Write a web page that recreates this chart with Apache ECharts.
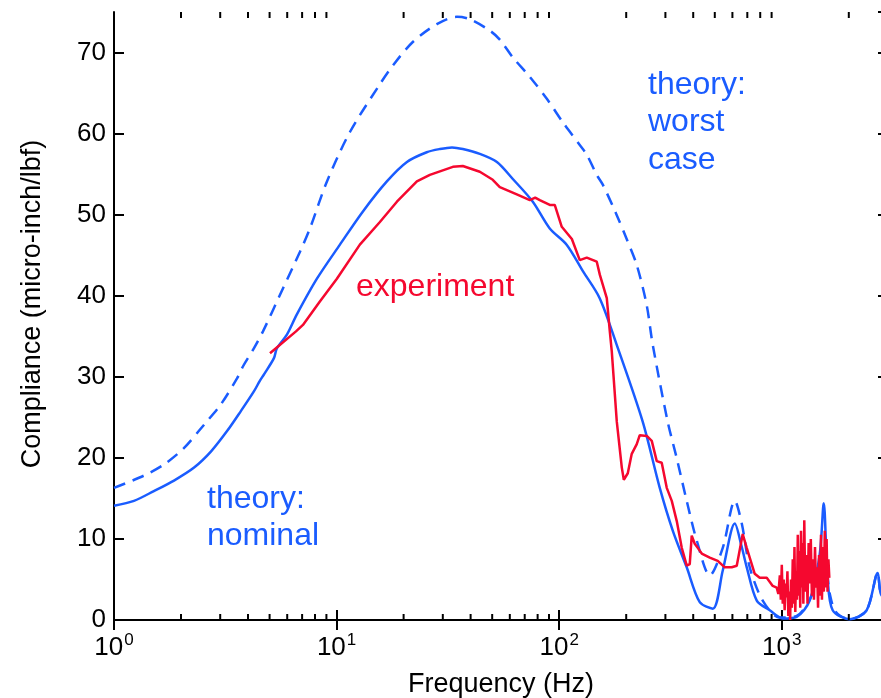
<!DOCTYPE html>
<html>
<head>
<meta charset="utf-8">
<script src="https://cdn.jsdelivr.net/npm/echarts@6/dist/echarts.min.js"></script>
<style>
html,body{margin:0;padding:0;background:#fff;}
#chart{width:881px;height:698px;}
</style>
</head>
<body>
<div id="chart"></div>
<script>
// ---- data ----
var nominalFreq = [1, 1.23, 1.51, 1.86, 2.29, 2.73, 3.22, 3.72, 4.25, 4.52, 4.72, 5.23, 5.39, 5.98, 6.63, 8.16, 10.35, 13.13, 16.82, 20.7, 25.4, 29.1, 33, 36.9, 44.0, 52.5, 61.9, 76.1, 90.7, 108, 128, 152, 181, 237, 283, 324, 374, 428, 490, 543, 615, 661, 696, 772, 883, 1009, 1167, 1334, 1480, 1543, 1607, 1693, 2018, 2406, 2696, 2781, 3000];
var nominalVal = [14.1, 14.7, 15.9, 17.2, 18.8, 20.8, 23.3, 25.8, 28.2, 29.5, 30.3, 32.3, 33.5, 35.2, 37.7, 42.1, 46.3, 50.4, 54.1, 56.5, 57.7, 58.1, 58.3, 58.1, 57.5, 56.5, 54.4, 51.6, 48.3, 46.3, 43.0, 39.7, 34.0, 24.5, 16.3, 11.0, 6.5, 2.2, 1.4, 6.1, 11.9, 9.0, 6.5, 2.4, 1.2, 0.2, 0.4, 2.4, 8.1, 14.4, 5.2, 1.2, 0.1, 1.2, 5.8, 3.3, 2.0];

var worstFreq = [1, 1.36, 1.68, 2.06, 2.54, 3.02, 3.57, 3.80, 4.25, 4.67, 5.74, 6.84, 7.59, 9.05, 11.48, 15.65, 17.89, 22.0, 28.2, 34.7, 39.7, 48.8, 54.1, 61.9, 73.8, 88.0, 103.8, 123.7, 133.0, 147.5, 157, 181, 201, 223, 247, 263, 307, 337, 374, 415, 475, 543, 615, 661, 718, 821, 979, 1167, 1377, 1480, 1560, 1641, 1750, 2018, 2406, 2696, 2781, 3000];
var worstVal = [16.3, 17.8, 19.2, 21.2, 24.1, 26.6, 29.8, 31.3, 33.5, 35.6, 40.9, 45.4, 48.3, 54.1, 60.2, 66.1, 68.4, 71.3, 73.5, 74.4, 74.1, 72.7, 71.6, 69.4, 67.0, 64.3, 61.4, 58.6, 57.4, 54.9, 53.7, 50.0, 47.0, 43.8, 38.9, 34.0, 24.5, 20.0, 14.7, 9.8, 5.5, 8.9, 14.7, 11.9, 6.5, 2.4, 0.3, 0.5, 3.3, 7.0, 7.3, 3.3, 1.0, 0.1, 1.2, 5.8, 3.3, 2.0];

var expFreq = [5.02, 6.57, 7.06, 8.41, 10.03, 12.72, 15.65, 18.66, 22.94, 26.24, 33.29, 36.9, 44.0, 50.3, 54.1, 64.5, 73.8, 78.0, 81.8, 90.7, 95.5, 102.7, 114.0, 123.7, 133.0, 147.5, 152.2, 163.6, 168.8, 172.3, 181.4, 191.1, 195.1, 203.3, 211.8, 223.1, 230.1, 247.4, 260.5, 274.3, 288.8, 304.2, 320.4, 337.4, 355.3, 374.1, 385.9, 393.9, 406.3, 419.1, 436.9, 474.7, 515.6, 554.2, 595.8, 627.6, 667.5, 695.7, 732.7, 755.8, 796, 855.8, 910.5, 948.8,
  965, 980, 990, 1000, 1010, 1020, 1030, 1040, 1050, 1060, 1070, 1080, 1090, 1100, 1110, 1120, 1130, 1140, 1150, 1160, 1170, 1180, 1190, 1200, 1210, 1220, 1230, 1240, 1250, 1262, 1275, 1290, 1305, 1320, 1335, 1350, 1365, 1380, 1395, 1410, 1425, 1440, 1455, 1470, 1485, 1500, 1515, 1530, 1545, 1560, 1575, 1590, 1605, 1620, 1635];
var expVal = [32.9, 35.6, 36.4, 39.3, 42.1, 46.3, 49.1, 51.6, 54.1, 54.9, 55.9, 56.0, 55.3, 54.3, 53.4, 52.5, 51.8, 52.1, 51.8, 51.2, 51.2, 48.5, 47.0, 44.4, 44.7, 44.2, 42.6, 39.7, 35.6, 33.1, 24.5, 18.8, 17.3, 18.1, 20.5, 21.7, 22.8, 22.7, 22.1, 19.6, 19.4, 16.3, 14.7, 12.2, 8.9, 6.7, 6.9, 10.4, 9.4, 8.9, 8.2, 7.7, 7.3, 6.5, 6.5, 6.7, 10.6, 8.9, 6.9, 5.7, 5.2, 5.2, 4.2, 4.0,
  3.2, 5.5, 2.5, 6.8, 2.0, 5.0, 1.2, 4.5, 2.8, 6.0, 0.5, 3.5, 0.0, 5.0, 1.5, 7.5, 2.0, 9.0, 1.0, 6.0, 2.5, 10.5, 3.0, 8.5, 1.5, 11.0, 4.0, 9.5, 2.0, 12.3, 3.5, 8.0, 2.0, 9.5, 4.5, 10.0, 3.0, 7.5, 2.5, 9.0, 4.0, 6.5, 1.5, 8.0, 3.0, 10.5, 2.5, 9.0, 3.5, 11.0, 4.0, 10.0, 3.5, 7.5, 5.2];

var minorTicks = [2, 3, 4, 5, 6, 7, 8, 9, 20, 30, 40, 50, 60, 70, 80, 90, 200, 300, 400, 500, 600, 700, 800, 900, 2000];
var yTicks = [0, 10, 20, 30, 40, 50, 60, 70];

var BLUE = '#1a5cff';
var RED = '#f5082f';
var FONT = 'Liberation Sans, Arial, Helvetica, sans-serif';

function pairs(xs, ys) { return xs.map(function (x, i) { return [x, ys[i]]; }); }

var chart = echarts.init(document.getElementById('chart'), null, { renderer: 'canvas' });

var xCommon = {
  type: 'log', logBase: 10, min: 1, max: 3000,
  splitLine: { show: false },
  axisLine: { show: true, lineStyle: { color: '#000', width: 2 } },
  axisTick: { show: true, inside: true, length: 10, lineStyle: { color: '#000', width: 2 } },
  minorTick: { show: false }
};
var yCommon = {
  type: 'value', min: 0, max: 75, interval: 10,
  splitLine: { show: false },
  axisLine: { show: true, lineStyle: { color: '#000', width: 2 } },
  axisTick: { show: true, inside: true, length: 10, lineStyle: { color: '#000', width: 2 } }
};

var option = {
  animation: false,
  backgroundColor: '#fff',
  grid: { left: 114, top: 12, width: 774, height: 608, containLabel: false, outerBoundsMode: 'none' },
  xAxis: [
    Object.assign({}, xCommon, {
      position: 'bottom',
      name: 'Frequency (Hz)', nameLocation: 'middle', nameGap: 51,
      nameTextStyle: { fontFamily: FONT, fontSize: 27, color: '#000' },
      axisLabel: {
        show: true, margin: 12, showMaxLabel: false,
        formatter: function (v) {
          var e = Math.round(Math.log(v) / Math.LN10);
          if (Math.abs(Math.pow(10, e) - v) > 1e-6 * v) return '';
          return '{b|10}{s|' + e + '}';
        },
        rich: {
          b: { fontFamily: FONT, fontSize: 26, color: '#000', verticalAlign: 'bottom' },
          s: { fontFamily: FONT, fontSize: 17, color: '#000', verticalAlign: 'top', padding: [0, 0, 12, 1] }
        }
      }
    }),
    Object.assign({}, xCommon, { position: 'top', axisLabel: { show: false } })
  ],
  yAxis: [
    Object.assign({}, yCommon, {
      position: 'left',
      name: 'Compliance (micro-inch/lbf)', nameLocation: 'middle', nameGap: 68,
      nameTextStyle: { fontFamily: FONT, fontSize: 27, color: '#000', padding: [0, 0, 0, 24] },
      axisLabel: {
        show: true, margin: 8, color: '#000', fontFamily: FONT, fontSize: 26,
        showMaxLabel: false,
        formatter: function (v) { return yTicks.indexOf(v) >= 0 ? String(v) : ''; }
      }
    }),
    Object.assign({}, yCommon, { position: 'right', axisLabel: { show: false } })
  ],
  series: [
    {
      name: 'theory: worst case', type: 'line', xAxisIndex: 0, yAxisIndex: 0,
      data: pairs(worstFreq, worstVal), showSymbol: false, symbol: 'none', smooth: 0.3,
      lineStyle: { color: BLUE, width: 2.5, type: [12, 8] }, z: 3
    },
    {
      name: 'theory: nominal', type: 'line', xAxisIndex: 0, yAxisIndex: 0,
      data: pairs(nominalFreq, nominalVal), showSymbol: false, symbol: 'none', smooth: 0.3,
      lineStyle: { color: BLUE, width: 2.5 }, z: 4
    },
    {
      name: 'experiment', type: 'line', xAxisIndex: 0, yAxisIndex: 0,
      data: pairs(expFreq, expVal), showSymbol: false, symbol: 'none',
      lineStyle: { color: RED, width: 2.5 }, z: 5
    },
    {
      name: 'minor ticks', type: 'custom', xAxisIndex: 0, yAxisIndex: 0,
      data: minorTicks.map(function (v) { return [v, 0]; }),
      encode: { x: 0, y: 1 }, silent: true, z: 10, clip: false,
      renderItem: function (params, api) {
        var b = api.coord([api.value(0), 0]);
        var t = api.coord([api.value(0), 75]);
        var st = { stroke: '#000', lineWidth: 2 };
        return {
          type: 'group',
          children: [
            { type: 'line', shape: { x1: b[0], y1: b[1], x2: b[0], y2: b[1] - 6 }, style: st },
            { type: 'line', shape: { x1: t[0], y1: t[1], x2: t[0], y2: t[1] + 6 }, style: st }
          ]
        };
      }
    }
  ],
  graphic: [
    { type: 'text', left: 648, top: 66, style: { text: 'theory:\nworst\ncase', font: '32px ' + FONT, fill: BLUE, lineHeight: 37.5 } },
    { type: 'text', left: 207, top: 480, style: { text: 'theory:\nnominal', font: '32px ' + FONT, fill: BLUE, lineHeight: 37.5 } },
    { type: 'text', left: 356, top: 268, style: { text: 'experiment', font: '32px ' + FONT, fill: RED, lineHeight: 37.5 } }
  ]
};
chart.setOption(option);
</script>
</body>
</html>
